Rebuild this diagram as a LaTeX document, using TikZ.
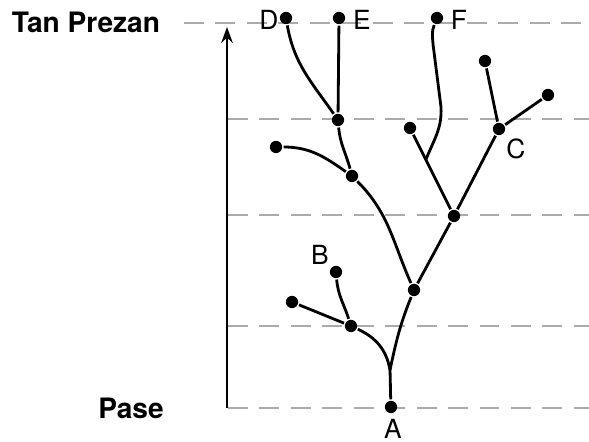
\documentclass[tikz,border=0pt]{standalone}
\usepackage{fontspec}
\setmainfont{TeX Gyre Heros}
\usetikzlibrary{arrows.meta,calc}

\tikzset{
  dot/.style={circle,fill,inner sep=0pt,minimum size=7pt},
  lvl/.style={draw=black!33,line width=1.5pt,dash pattern=on 11.3pt off 6.6pt},
  tag/.style={font=\fontsize{15}{18}\selectfont},
  side/.style={font=\fontsize{16}{19}\selectfont\bfseries},
}

\begin{document}
\begin{tikzpicture}[x=0.02cm,y=0.02cm,line width=1.6pt]
  \useasboundingbox (0,0) rectangle (589,442);

  % time levels
  \draw[lvl] (184,419) -- (589,419);
  \foreach \y in {323,227,116,34}
    \draw[lvl] (228,\y) -- (589,\y);

  \node[side] (Ltop) at (86,420) {Tan Prezan};
  \node[side] (Lbot) at (131,34) {Pase};
  \coordinate (T0) at (227,34);
  \coordinate (T1) at (227,415);
  \draw[-{Stealth[length=9pt,width=6.5pt]}] (T0) -- (T1);

  % tree
  \node[dot] (N0) at (391,35) {};
  \coordinate (N1) at (390,72);
  \node[dot] (N2) at (351,116) {};
  \node[dot] (N3) at (292,140) {};
  \node[dot] (N4) at (336,170) {};
  \node[dot] (N5) at (414,152) {};
  \node[dot] (N6) at (352,266) {};
  \node[dot] (N7) at (276,295) {};
  \node[dot] (N8) at (338,322) {};
  \node[dot] (N9) at (286,424) {};
  \node[dot] (N10) at (339,424) {};
  \node[dot] (N11) at (454,226) {};
  \node[dot] (N12) at (410,314) {};
  \node[dot] (N13) at (437,424) {};
  \node[dot] (N14) at (499,313) {};
  \node[dot] (N15) at (485,381) {};
  \node[dot] (N16) at (548,347) {};
  \coordinate (N17) at ($(N11.center)!0.64!(N12.center)$);
  \coordinate (N18) at (441,335);
  \coordinate (N19) at (433,398);

  \node[tag] (LA) at (393,13) {A};
  \node[tag] (LB) at (320,187) {B};
  \node[tag] (LC) at (516,293) {C};
  \node[tag] (LD) at (269,422) {D};
  \node[tag] (LE) at (362,422) {E};
  \node[tag] (LF) at (459,422) {F};

  \draw (N0) to[out=92,in=-88] (N1);
  \draw (N1) to[out=100,in=-25] (N2);
  \draw (N1) to[out=78,in=-112] (N5);
  \draw (N2) -- (N3);
  \draw (N2) to[out=108,in=-85] (N4);
  \draw (N5) to[out=114,in=-45] (N6);
  \draw (N7) to[out=0,in=145] (N6);
  \draw (N6) to[out=105,in=-85] (N8);
  \draw (N8) -- (N10);
  \draw (N8) to[out=125,in=-80] (N9);
  \draw (N5) -- (N11);
  \draw (N11) -- (N12);
  \draw (N11) -- (N14);
  \draw (N14) -- (N15);
  \draw (N14) -- (N16);
  \draw (N17) to[out=68,in=-87] (N18) -- (N19) to[out=93,in=-112] (N13);
\end{tikzpicture}
\end{document}
